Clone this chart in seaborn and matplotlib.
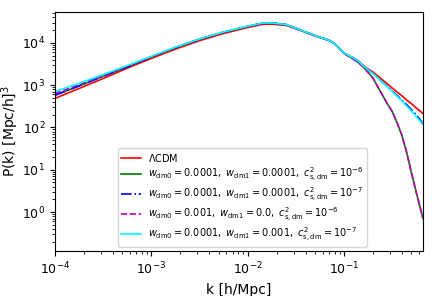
import numpy as np
import pandas as pd
import matplotlib
matplotlib.use("Agg")
import matplotlib.pyplot as plt
import seaborn as sns

# log10(k) sample points
logk_lo = [-4.0, -3.75, -3.5, -3.25, -3.0, -2.75, -2.5, -2.25, -2.0, -1.85, -1.75,
           -1.6, -1.45, -1.3, -1.15, -1.1, -1.05, -1.0, -0.95, -0.9, -0.85, -0.8,
           -0.75, -0.7, -0.63, -0.55, -0.5, -0.45, -0.4, -0.35, -0.3, -0.25, -0.18]

# log10(P) for each model
lcdm = [2.686, 2.92, 3.155, 3.40, 3.63, 3.85, 4.05, 4.22, 4.36, 4.435, 4.44,
        4.41, 4.29, 4.16, 4.05, 3.98, 3.87, 3.76, 3.70, 3.64, 3.57, 3.47,
        3.38, 3.31, 3.18, 3.03, 2.93, 2.84, 2.75, 2.65, 2.56, 2.46, 2.33]
green = [2.76, 2.98, 3.21, 3.43, 3.665, 3.885, 4.085, 4.25, 4.385, 4.46, 4.465,
         4.43, 4.30, 4.17, 4.055, 3.98, 3.87, 3.75, 3.68, 3.61, 3.53, 3.43,
         3.30, 3.17, 2.88, 2.56, 2.38, 2.12, 1.82, 1.42, 0.93, 0.47, -0.15]
blue = [2.76, 2.98, 3.21, 3.43, 3.665, 3.885, 4.085, 4.25, 4.385, 4.46, 4.465,
        4.43, 4.30, 4.17, 4.055, 3.98, 3.87, 3.76, 3.70, 3.64, 3.565, 3.46,
        3.36, 3.28, 3.13, 2.97, 2.86, 2.76, 2.65, 2.54, 2.42, 2.30, 2.09]
magenta = [2.80, 3.01, 3.23, 3.445, 3.67, 3.89, 4.088, 4.252, 4.387, 4.462, 4.467,
           4.43, 4.30, 4.17, 4.055, 3.98, 3.87, 3.75, 3.68, 3.61, 3.53, 3.43,
           3.30, 3.17, 2.88, 2.56, 2.38, 2.12, 1.82, 1.42, 0.93, 0.47, -0.15]
cyan = [2.85, 3.04, 3.25, 3.46, 3.68, 3.895, 4.09, 4.255, 4.39, 4.465, 4.47,
        4.43, 4.30, 4.17, 4.055, 3.98, 3.87, 3.76, 3.70, 3.64, 3.565, 3.46,
        3.36, 3.28, 3.13, 2.96, 2.85, 2.74, 2.63, 2.51, 2.39, 2.26, 2.07]

labels = [r'$\Lambda$CDM',
          r'$w_{\rm dm0}=0.0001,\ w_{\rm dm1}=0.0001,\ c^2_{\rm s,dm}=10^{-6}$',
          r'$w_{\rm dm0}=0.0001,\ w_{\rm dm1}=0.0001,\ c^2_{\rm s,dm}=10^{-7}$',
          r'$w_{\rm dm0}=0.001,\ w_{\rm dm1}=0.0,\ c^2_{\rm s,dm}=10^{-6}$',
          r'$w_{\rm dm0}=0.0001,\ w_{\rm dm1}=0.001,\ c^2_{\rm s,dm}=10^{-7}$']
series = [lcdm, green, blue, magenta, cyan]
colors = ['red', 'green', 'blue', 'm', 'cyan']
styles = ['-', '-', '-.', '--', '-']

fig = plt.figure(figsize=(4.36, 2.96), dpi=100)
ax = fig.add_axes([0.126, 0.152, 0.844, 0.807])

k = 10 ** np.array(logk_lo)
for lab, vals, c, ls in zip(labels, series, colors, styles):
    df = pd.DataFrame({'k': k, 'P': 10 ** np.array(vals)})
    sns.lineplot(data=df, x='k', y='P', ax=ax, color=c, linestyle=ls,
                 linewidth=1.2, label=lab, sort=False, estimator=None)

ax.set_xscale('log')
ax.set_yscale('log')
ax.set_xlim(1e-4, 0.66)
ax.set_ylim(0.12, 5.3e4)
ax.set_xlabel('k [h/Mpc]', fontsize=10)
ax.set_ylabel(r'P(k) [Mpc/h]$^3$', fontsize=10)
ax.yaxis.set_label_coords(-0.092, 0.5)
ax.tick_params(labelsize=9)
ax.legend(loc='lower left', bbox_to_anchor=(0.16, 0.0), fontsize=7.0,
          frameon=True, borderaxespad=0.4, labelspacing=0.2, borderpad=0.35,
          handletextpad=0.8)

fig.savefig('out.png', dpi=100)
